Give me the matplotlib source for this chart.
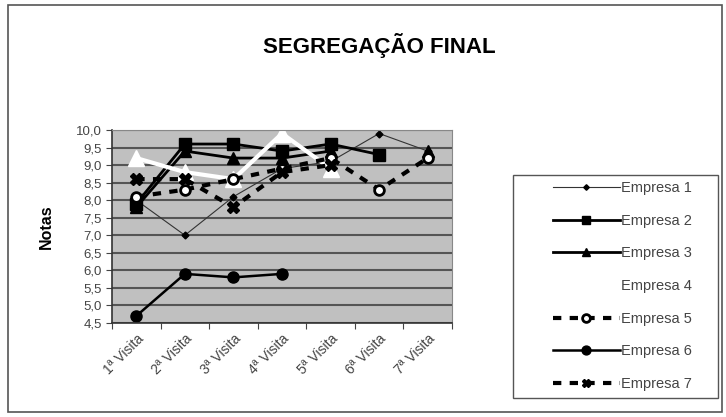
import numpy as np
import matplotlib
matplotlib.use("Agg")
import matplotlib.pyplot as plt
from matplotlib.patches import Rectangle
from matplotlib.ticker import FuncFormatter

plt.rcParams['font.family'] = ['Liberation Sans', 'DejaVu Sans']

visitas = ["1ª Visita", "2ª Visita", "3ª Visita", "4ª Visita", "5ª Visita", "6ª Visita", "7ª Visita"]
nan = np.nan
empresa1 = [8.0, 7.0, 8.1, 8.9, 9.1, 9.9, 9.4]
empresa2 = [7.9, 9.6, 9.6, 9.4, 9.6, 9.3, nan]
empresa3 = [7.8, 9.4, 9.2, 9.2, 9.4, nan, 9.4]
empresa4 = [9.2, 8.8, 8.6, 9.9, 8.9, nan, nan]
empresa5 = [8.1, 8.3, 8.6, 8.9, 9.2, 8.3, 9.2]
empresa6 = [4.7, 5.9, 5.8, 5.9, nan, nan, nan]
empresa7 = [8.6, 8.6, 7.8, 8.8, 9.0, nan, nan]

fig = plt.figure(figsize=(7.26, 4.17), dpi=100)
# outer chart border
fig.patches.append(Rectangle((8/726, 5/417), 714/726, 407/417, transform=fig.transFigure,
                             fill=False, edgecolor='#555555', linewidth=1.2))
# legend border (drawn by hand, excel style box)
fig.patches.append(Rectangle((513/726, 1-398/417), 205/726, 223/417, transform=fig.transFigure,
                             fill=False, edgecolor='#555555', linewidth=1.0))

ax = fig.add_axes([112/726, 1-323/417, 340/726, 193/417])
ax.set_facecolor('#c0c0c0')
x = np.arange(len(visitas))

ax.plot(x, empresa1, color='#333333', lw=0.8, marker='D', ms=3.5, mfc='black', mec='black', label='Empresa 1')
ax.plot(x, empresa2, color='black', lw=2, marker='s', ms=8, label='Empresa 2')
ax.plot(x, empresa3, color='black', lw=2, marker='^', ms=8, label='Empresa 3')
ax.plot(x, empresa4, color='white', lw=3, marker='^', ms=12, mfc='white', mec='white', label='Empresa 4')
ax.plot(x, empresa5, color='black', lw=3, ls=(0, (2, 2)), marker='o', ms=7, mfc='white', mec='black', mew=2, label='Empresa 5')
ax.plot(x, empresa6, color='black', lw=1.8, marker='o', ms=8, label='Empresa 6')
ax.plot(x, empresa7, color='black', lw=3, ls=(0, (2, 2)), marker='X', ms=8, label='Empresa 7')

ax.set_xlim(-0.5, len(visitas)-0.5)
ax.set_ylim(4.5, 10.0)
ax.set_yticks(np.arange(4.5, 10.01, 0.5))
ax.yaxis.set_major_formatter(FuncFormatter(lambda v, p: ("%.1f" % v).replace('.', ',')))
ax.grid(axis='y', color='#555555', lw=1.5)
ax.set_axisbelow(True)
ax.set_xticks(np.arange(-0.5, len(visitas), 1), minor=False)
ax.set_xticklabels([])
ax.set_xticks(x, minor=True)
ax.set_xticklabels(visitas, minor=True, rotation=45, ha='right', rotation_mode='anchor', fontsize=10, color='#444444')
ax.tick_params(axis='x', which='minor', length=0, pad=6)
ax.tick_params(axis='x', which='major', length=4, direction='out', color='#444444')
ax.tick_params(axis='y', labelsize=9.5, labelcolor='#444444', length=4, color='#444444')
for side in ['top', 'right']:
    ax.spines[side].set_color('#888888')
for side in ['left', 'bottom']:
    ax.spines[side].set_color('#333333')
    ax.spines[side].set_linewidth(1.2)

ax.set_ylabel('Notas', fontsize=11.5, fontweight='bold', labelpad=16)
fig.text(379/726, 1-45/417, 'SEGREGAÇÃO FINAL', ha='center', va='center', fontsize=16, fontweight='bold')

leg = fig.legend(loc='upper right', bbox_to_anchor=(692/726, 1-181/417), bbox_transform=fig.transFigure,
                 frameon=False, fontsize=10.5, handlelength=4.6, markerscale=0.8,
                 handletextpad=0.1, labelspacing=1.28, borderpad=0, borderaxespad=0)
for t in leg.get_texts():
    t.set_color('#444444')
leg._legend_box.align = 'right'

fig.savefig('out.png', dpi=100)
